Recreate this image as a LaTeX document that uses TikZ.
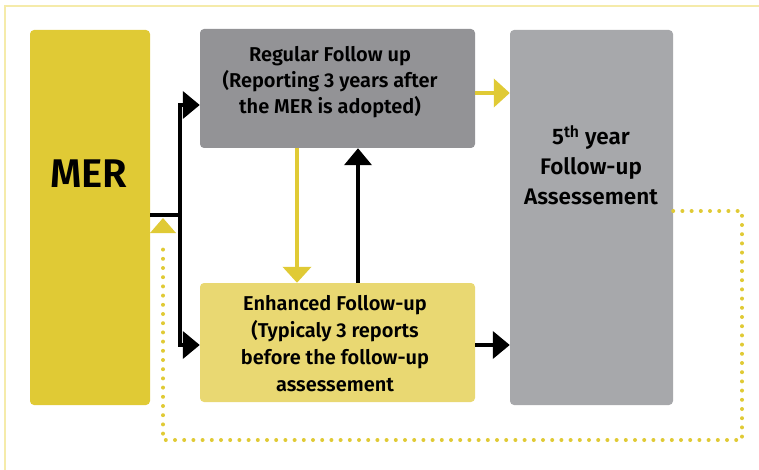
\documentclass[tikz,border=0pt]{standalone}
\usepackage{fontspec}
\setmainfont{Fira Sans}[BoldFont={Fira Sans SemiBold}]
\usetikzlibrary{arrows.meta}

\definecolor{merfill}{HTML}{E0CA35}
\definecolor{regfill}{HTML}{939396}
\definecolor{fifthfill}{HTML}{A7A8AB}
\definecolor{enhfill}{HTML}{E9D872}
\definecolor{framecol}{HTML}{F5EBAA}
\definecolor{arrowyel}{HTML}{E0CA35}

\tikzset{
  box/.style={rectangle, rounded corners=4pt, draw=none, inner sep=0pt},
  boxtext/.style={align=center, font=\bfseries\fontsize{20}{26}\selectfont, text=black},
  blkline/.style={draw=black, line width=4pt},
  blkarrow/.style={blkline, -{Triangle[length=17pt,width=27pt]}},
  yelarrow/.style={draw=arrowyel, line width=4.5pt, -{Triangle[length=16pt,width=28pt]}},
  dotline/.style={draw=arrowyel, line width=4pt, line cap=round, dash pattern=on 0pt off 9.2pt},
}

\begin{document}
\begin{tikzpicture}[x=1pt,y=-1pt]
\useasboundingbox (0,0) rectangle (759,470);

% outer frame
\draw[framecol, line width=2pt] (5,472) -- (5,6) -- (761,6);

% boxes
\node[box, fill=merfill, minimum width=120pt, minimum height=375pt] (mer) at (90,217.5) {};
\node[boxtext, font=\bfseries\fontsize{40}{48}\selectfont] (mertext) at (89,174) {MER};

\node[box, fill=regfill, minimum width=275pt, minimum height=119pt] (reg) at (337.5,88.5) {};
\node[boxtext] (regtext) at (330,82) {Regular Follow up\\(Reporting 3 years after\\the MER is adopted)};

\node[box, fill=enhfill, minimum width=275pt, minimum height=119pt] (enh) at (337.5,342.5) {};
\node[boxtext, font=\bfseries\fontsize{20}{27}\selectfont] (enhtext) at (335,344) {Enhanced Follow-up\\(Typicaly 3 reports\\before the follow-up\\assessement};

\node[box, fill=fifthfill, minimum width=163pt, minimum height=375pt] (fifth) at (591.5,217.5) {};
\node[boxtext, font=\bfseries\fontsize{22.5}{30}\selectfont] (fifthtext) at (591,165) {5\textsuperscript{th} year\\Follow-up\\Assessement};

% branching from MER
\coordinate (junc) at (180,215);
\draw[blkline] (mer.east |- junc) -- ([xshift=2pt]junc);
\draw[blkarrow] ([yshift=-2pt]junc) |- (reg.west |- 0,105);
\draw[blkarrow] ([yshift=2pt]junc) |- (enh.west |- 0,345);

% between follow-up boxes
\draw[yelarrow] (reg.south -| 297,0) -- (enh.north -| 297,0);
\draw[blkarrow] (enh.north -| 358,0) -- (reg.south -| 358,0);

% towards the assessment
\draw[yelarrow] (reg.east |- 0,93) -- (fifth.west |- 0,93);
\draw[blkarrow] (enh.east |- 0,345) -- (fifth.west |- 0,345);

% dotted loop back to MER
\coordinate (d1) at (742,211);
\coordinate (d2) at (742,440);
\coordinate (d3) at (163,440);
\coordinate (d4) at (163,233);
\coordinate (d5) at (163,218);
\draw[dotline] (fifth.east |- d1) -- (d1) -- (d2) -- (d3) -- ([yshift=-8pt]d4);
\fill[arrowyel] (d5) -- (150,233) -- (176,233) -- cycle;
\end{tikzpicture}
\end{document}
